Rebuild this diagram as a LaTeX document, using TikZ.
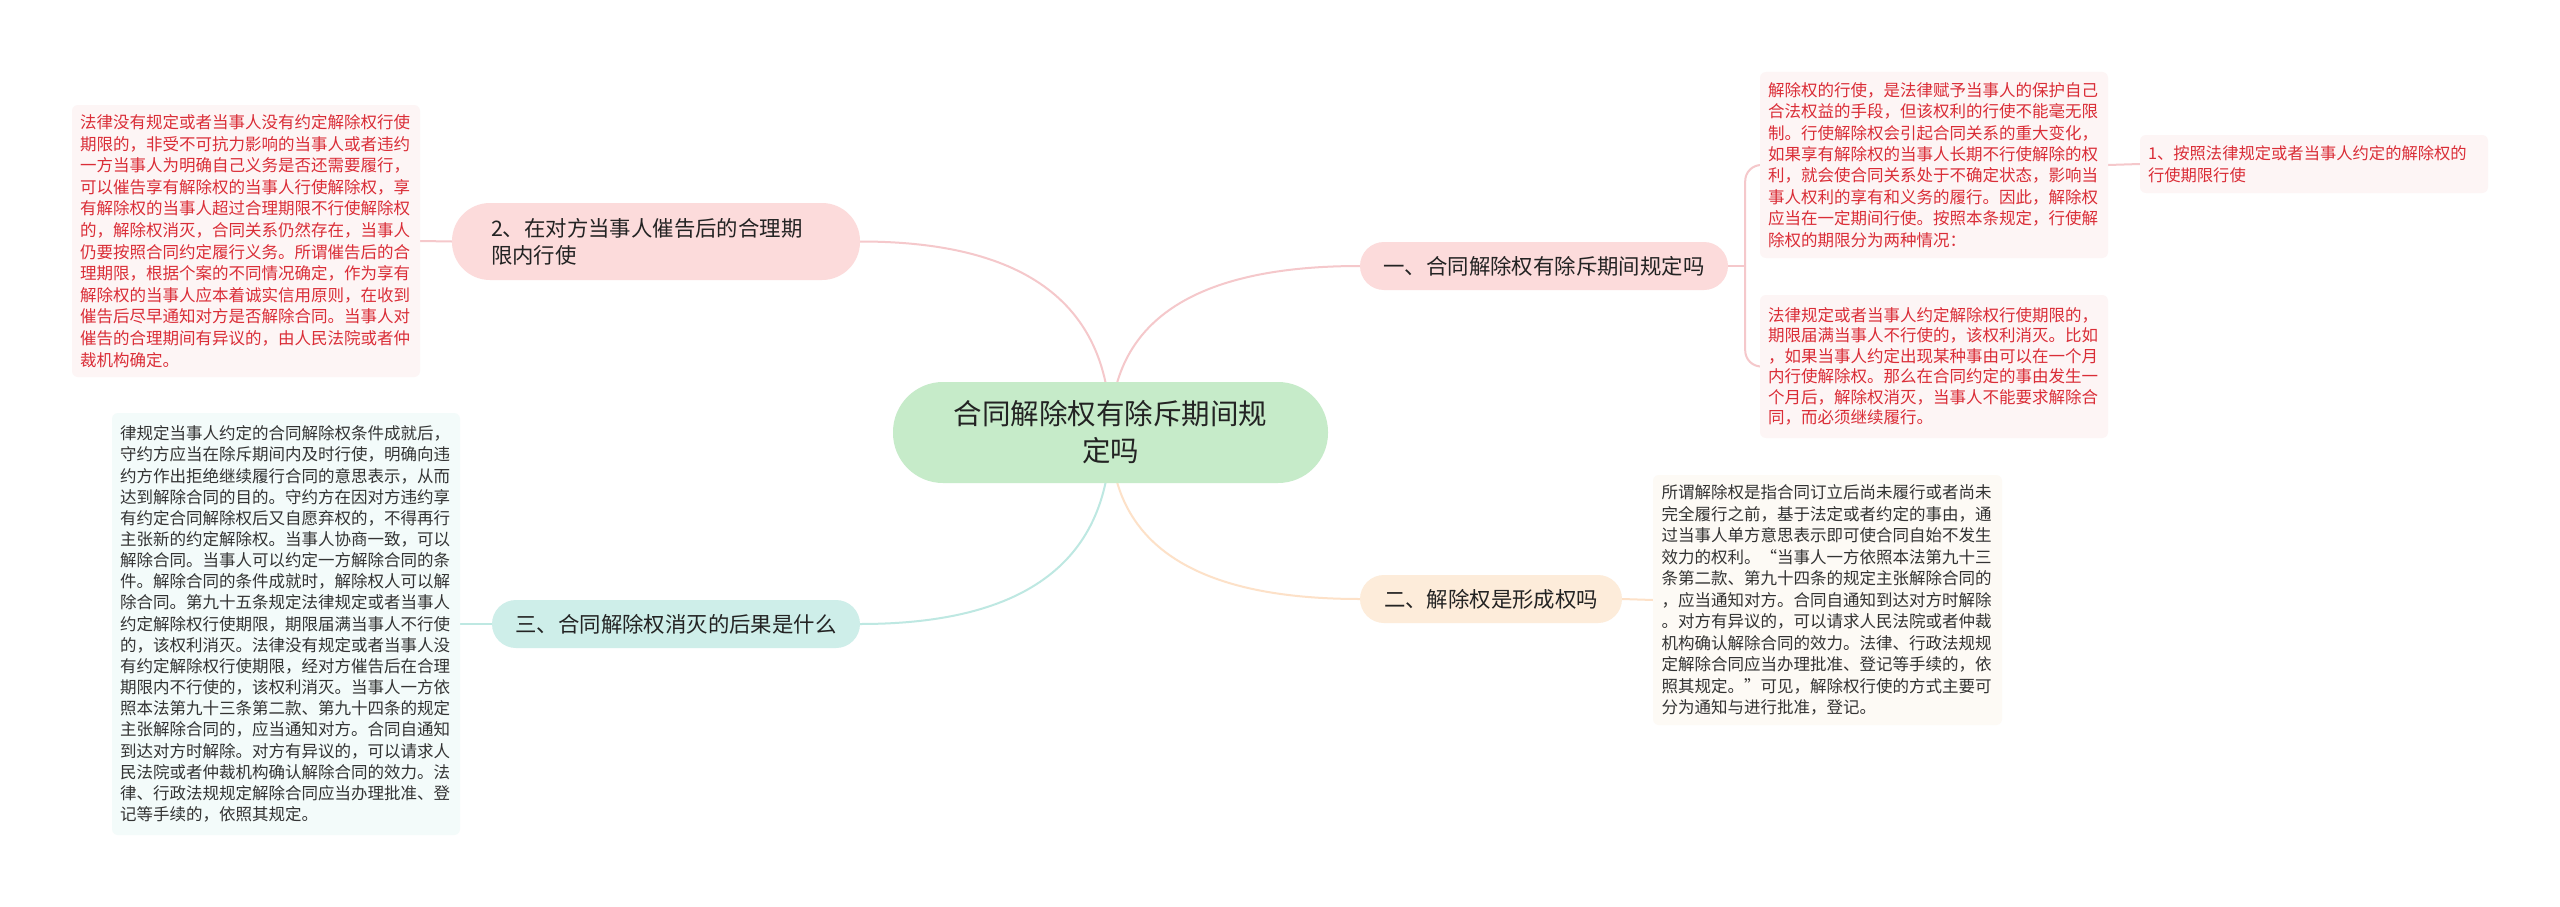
\documentclass[tikz,border=0pt]{standalone}
\usepackage{fontspec}
\newfontfamily\cjk{Noto Sans CJK SC}
\usetikzlibrary{calc,backgrounds}
\definecolor{centerfill}{RGB}{198,235,201}
\definecolor{pinkfill}{RGB}{252,219,219}
\definecolor{tealfill}{RGB}{206,238,233}
\definecolor{peachfill}{RGB}{253,236,218}
\definecolor{redbg}{RGB}{253,245,245}
\definecolor{graybg}{RGB}{243,251,250}
\definecolor{peachbg}{RGB}{253,250,245}
\definecolor{linepink}{RGB}{245,200,203}
\definecolor{lineteal}{RGB}{190,232,226}
\definecolor{linepeach}{RGB}{253,225,200}
\definecolor{redtxt}{RGB}{218,45,55}
\definecolor{darktxt}{RGB}{51,51,51}
\definecolor{nodetxt}{RGB}{35,35,35}
\newcommand\branchcurve[2]{\draw[#1] (c.center) .. controls ($(c.center)!0.667!(c.center |- #2)$) and ($(#2)!0.667!(c.center |- #2)$) .. (#2);}
\begin{document}
\begin{tikzpicture}[x=1pt,y=-1pt,
  txtbox/.style={rounded corners=6pt, inner xsep=8pt, inner ysep=0pt, align=left, minimum width=348pt, text width=332pt},
  redbox/.style={txtbox, fill=redbg, text=redtxt},
  graybox/.style={txtbox, fill=graybg, text=darktxt},
  peachbox/.style={txtbox, fill=peachbg, text=darktxt},
  topic/.style={rounded corners=24pt, minimum height=48pt, inner sep=0pt, text=nodetxt, font=\cjk\fontsize{21.4}{27}\selectfont},
  conn/.style={line width=2pt}
]
\useasboundingbox (0,0) rectangle (2560,907);

% central topic
\node[fill=centerfill, rounded corners=50pt, minimum width=435pt, minimum height=101pt, inner sep=0pt, align=center, text=nodetxt, font=\cjk\fontsize{28.5}{37}\selectfont] (c) at (1110.5,432.5) {合同解除权有除斥期间规\\定吗};

% main branches
\node[topic, fill=pinkfill, minimum width=408pt, minimum height=77pt, rounded corners=38pt, align=left, text width=330pt] (n2) at (656,241.5) {2、在对方当事人催告后的合理期\\限内行使};
\node[topic, fill=pinkfill, minimum width=368pt] (n1) at (1544,266) {一、合同解除权有除斥期间规定吗};
\node[topic, fill=tealfill, minimum width=368pt] (n3) at (676,624) {三、合同解除权消灭的后果是什么};
\node[topic, fill=peachfill, minimum width=262pt] (n4) at (1491,599) {二、解除权是形成权吗};

% text blocks
\node[redbox, minimum height=272pt, font=\cjk\fontsize{16.5}{21.6}\selectfont] (A) at (246,241) {法律没有规定或者当事人没有约定解除权行使\\期限的，非受不可抗力影响的当事人或者违约\\一方当事人为明确自己义务是否还需要履行，\\可以催告享有解除权的当事人行使解除权，享\\有解除权的当事人超过合理期限不行使解除权\\的，解除权消灭，合同关系仍然存在，当事人\\仍要按照合同约定履行义务。所谓催告后的合\\理期限，根据个案的不同情况确定，作为享有\\解除权的当事人应本着诚实信用原则，在收到\\催告后尽早通知对方是否解除合同。当事人对\\催告的合理期间有异议的，由人民法院或者仲\\裁机构确定。};

\node[graybox, minimum height=422pt, font=\cjk\fontsize{16.5}{21.15}\selectfont] (B) at (286,624) {律规定当事人约定的合同解除权条件成就后，\\守约方应当在除斥期间内及时行使，明确向违\\约方作出拒绝继续履行合同的意思表示，从而\\达到解除合同的目的。守约方在因对方违约享\\有约定合同解除权后又自愿弃权的，不得再行\\主张新的约定解除权。当事人协商一致，可以\\解除合同。当事人可以约定一方解除合同的条\\件。解除合同的条件成就时，解除权人可以解\\除合同。第九十五条规定法律规定或者当事人\\约定解除权行使期限，期限届满当事人不行使\\的，该权利消灭。法律没有规定或者当事人没\\有约定解除权行使期限，经对方催告后在合理\\期限内不行使的，该权利消灭。当事人一方依\\照本法第九十三条第二款、第九十四条的规定\\主张解除合同的，应当通知对方。合同自通知\\到达对方时解除。对方有异议的，可以请求人\\民法院或者仲裁机构确认解除合同的效力。法\\律、行政法规规定解除合同应当办理批准、登\\记等手续的，依照其规定。};

\node[redbox, minimum height=186pt, font=\cjk\fontsize{16.5}{21.4}\selectfont] (C) at (1934,165) {解除权的行使，是法律赋予当事人的保护自己\\合法权益的手段，但该权利的行使不能毫无限\\制。行使解除权会引起合同关系的重大变化，\\如果享有解除权的当事人长期不行使解除的权\\利，就会使合同关系处于不确定状态，影响当\\事人权利的享有和义务的履行。因此，解除权\\应当在一定期间行使。按照本条规定，行使解\\除权的期限分为两种情况：};

\node[redbox, minimum height=143pt, font=\cjk\fontsize{16.5}{20.5}\selectfont] (D) at (1934,366.5) {法律规定或者当事人约定解除权行使期限的，\\期限届满当事人不行使的，该权利消灭。比如\\，如果当事人约定出现某种事由可以在一个月\\内行使解除权。那么在合同约定的事由发生一\\个月后，解除权消灭，当事人不能要求解除合\\同，而必须继续履行。};

\node[redbox, minimum height=58pt, font=\cjk\fontsize{16.3}{22}\selectfont] (F) at (2314,164) {1、按照法律规定或者当事人约定的解除权的\\行使期限行使};

\node[peachbox, minimum width=349pt, minimum height=250pt, font=\cjk\fontsize{16.5}{21.5}\selectfont] (E) at (1827.5,600) {所谓解除权是指合同订立后尚未履行或者尚未\\完全履行之前，基于法定或者约定的事由，通\\过当事人单方意思表示即可使合同自始不发生\\效力的权利。“当事人一方依照本法第九十三\\条第二款、第九十四条的规定主张解除合同的\\，应当通知对方。合同自通知到达对方时解除\\。对方有异议的，可以请求人民法院或者仲裁\\机构确认解除合同的效力。法律、行政法规规\\定解除合同应当办理批准、登记等手续的，依\\照其规定。”可见，解除权行使的方式主要可\\分为通知与进行批准，登记。};

\coordinate (j) at ($(n1.east)+(17,0)$);

\begin{scope}[on background layer]
\fill[white] (0,0) rectangle (2560,907);
\branchcurve{conn, linepink}{n1.west}
\branchcurve{conn, linepink}{n2.east}
\branchcurve{conn, lineteal}{n3.east}
\branchcurve{conn, linepeach}{n4.west}
\draw[conn, linepink] (n2.west) -- (A.east);
\draw[conn, lineteal] (n3.west) -- (B.east);
\draw[conn, linepeach] (n4.east) -- (E.west);
\draw[conn, linepink] (n1.east) -- (j);
\draw[conn, linepink, rounded corners=16pt] (j) |- (C.west);
\draw[conn, linepink, rounded corners=16pt] (j) |- (D.west);
\draw[conn, linepink] (C.east) -- (F.west);
\end{scope}
\end{tikzpicture}
\end{document}
